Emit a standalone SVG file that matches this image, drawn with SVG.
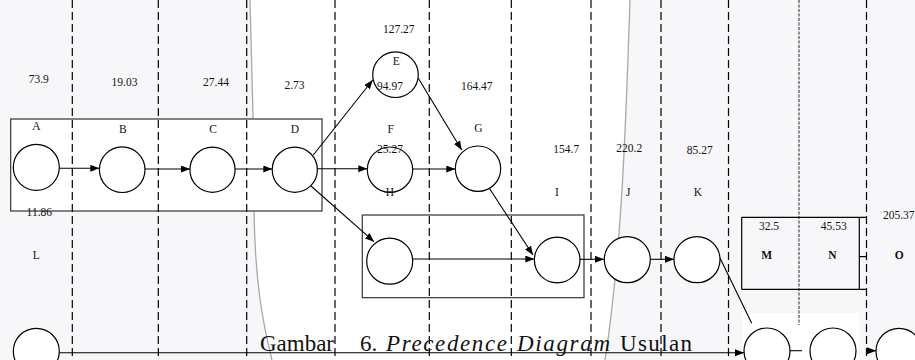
<svg xmlns="http://www.w3.org/2000/svg" width="915" height="360" viewBox="0 0 915 360">
<defs>
<marker id="ah" markerUnits="userSpaceOnUse" markerWidth="10" markerHeight="8" refX="9" refY="3.5" orient="auto">
<path d="M0,0 L9,3.5 L0,7 z" fill="#000"/>
</marker>
<style>
.t{font-family:"Liberation Serif","Times New Roman",serif;font-size:11.5px;fill:#111;text-anchor:middle}
.b{font-weight:bold}
.cap{font-family:"Liberation Serif","Times New Roman",serif;font-size:23px;fill:#111}
.it{font-style:italic}
.dash{stroke:#000;stroke-width:1.2;stroke-dasharray:8 4;fill:none}
.dot{stroke:#222;stroke-width:1;stroke-dasharray:3 1.5;fill:none}
.box{fill:#fff;stroke:#333;stroke-width:1.2}
.nd{fill:#fff;stroke:#000;stroke-width:1.2}
.cn{stroke:#000;stroke-width:1.1;fill:none}
.arr{marker-end:url(#ah)}
.curl{fill:none;stroke:#a8a8a8;stroke-width:1.3}
</style>
</defs>
<g id="background">
<rect x="0" y="0" width="915" height="360" fill="#f7f7f9"/>
<path d="M250,0 L630,0 C626,120 622,250 605,360 L272,360 C262,320 255,280 254,210 L253,117 Z" fill="#fff"/>
<path class="curl" d="M250,0 L253,117 L254,210 C255,280 262,320 272,360"/>
<path class="curl" d="M630,0 C626,120 622,250 605,360"/>
<rect x="742" y="313" width="117" height="47" fill="#fff"/>
</g>
<g id="frames">
<rect class="box" x="10.7" y="119" width="311.3" height="92"/>
<rect class="box" x="362.3" y="215" width="221.7" height="82.7"/>
<path d="M741.7,217.3 H866.5 M859.3,217.3 V289.3 M741.7,217.3 V289.3 M741.7,289.3 H866.5 M859.3,256.7 H866.5" fill="none" stroke="#000" stroke-width="1.2"/>
</g>
<g id="lanes">
<line class="dash" x1="72.3" y1="0" x2="72.3" y2="360"/>
<line class="dash" x1="158.3" y1="0" x2="158.3" y2="360"/>
<line class="dash" x1="246.7" y1="0" x2="246.7" y2="360"/>
<line class="dash" x1="335" y1="0" x2="335" y2="360"/>
<line class="dash" x1="429.3" y1="0" x2="429.3" y2="360"/>
<line class="dash" x1="511.3" y1="0" x2="511.3" y2="360"/>
<line class="dash" x1="591" y1="0" x2="591" y2="360"/>
<line class="dash" x1="661" y1="0" x2="661" y2="360"/>
<line class="dash" x1="728.5" y1="0" x2="728.5" y2="360"/>
<line class="dot" x1="799" y1="0" x2="799" y2="325"/>
<line class="dash" x1="866.5" y1="0" x2="866.5" y2="360"/>
</g>
<g id="connectors">
<line class="cn arr" x1="59.3" y1="168.3" x2="99.3" y2="168.3"/>
<line class="cn arr" x1="145" y1="169" x2="190" y2="169"/>
<line class="cn arr" x1="235" y1="169" x2="272.3" y2="169"/>
<line class="cn arr" x1="317.3" y1="168.7" x2="367.3" y2="168.7"/>
<line class="cn arr" x1="412.7" y1="169" x2="455.3" y2="169"/>
<line class="cn arr" x1="313.3" y1="155" x2="372.7" y2="80"/>
<line class="cn arr" x1="418.3" y1="78.3" x2="461.7" y2="150"/>
<line class="cn arr" x1="311" y1="186" x2="374" y2="241.7"/>
<line class="cn arr" x1="489.3" y1="188.3" x2="533" y2="255"/>
<line class="cn arr" x1="412.7" y1="259" x2="534.3" y2="259"/>
<line class="cn arr" x1="580" y1="259.3" x2="604" y2="259.3"/>
<line class="cn arr" x1="650.7" y1="259.3" x2="674" y2="259.3"/>
<line class="cn" x1="720" y1="258" x2="751.7" y2="323.3"/>
<line class="cn arr" x1="59.3" y1="352.7" x2="744" y2="352.7"/>
<line class="cn" x1="790" y1="350.7" x2="802" y2="350.7"/>
<line class="cn arr" x1="866.5" y1="350.7" x2="876" y2="350.7"/>
</g>
<g id="node-A"><circle class="nd" cx="36.3" cy="167.3" r="23"/><text class="t" x="36.3" y="130">A</text><text class="t" x="38.7" y="83.3">73.9</text></g>
<g id="node-B"><circle class="nd" cx="122.2" cy="169.7" r="22.8"/><text class="t" x="122.8" y="132.7">B</text><text class="t" x="124.5" y="86">19.03</text></g>
<g id="node-C"><circle class="nd" cx="212.5" cy="169.7" r="22.6"/><text class="t" x="213" y="132.7">C</text><text class="t" x="216" y="86">27.44</text></g>
<g id="node-D"><circle class="nd" cx="294.8" cy="169.7" r="22.6"/><text class="t" x="295" y="132.7">D</text><text class="t" x="294.5" y="89.3">2.73</text></g>
<g id="node-E"><circle class="nd" cx="395.5" cy="74.7" r="22.8"/><text class="t" x="396.3" y="65.3">E</text><text class="t" x="398.7" y="33.3">127.27</text><text class="t" x="390" y="90">94.97</text></g>
<g id="node-F"><circle class="nd" cx="390" cy="169.7" r="22.7"/><text class="t" x="390.7" y="132.7">F</text><text class="t" x="390" y="152.7">25.27</text></g>
<g id="node-G"><circle class="nd" cx="478" cy="168.7" r="22.7"/><text class="t" x="478.5" y="132">G</text><text class="t" x="476.8" y="90">164.47</text></g>
<g id="node-H"><circle class="nd" cx="389.7" cy="261.2" r="23"/><text class="t" x="390" y="196">H</text></g>
<g id="node-I"><circle class="nd" cx="557.2" cy="260" r="22.8"/><text class="t" x="557" y="196">I</text><text class="t" x="566.3" y="152.7">154.7</text></g>
<g id="node-J"><circle class="nd" cx="627.3" cy="259.7" r="23"/><text class="t" x="628.3" y="196">J</text><text class="t" x="629.3" y="152.3">220.2</text></g>
<g id="node-K"><circle class="nd" cx="697" cy="259.7" r="23"/><text class="t" x="698" y="196">K</text><text class="t" x="699.7" y="154.3">85.27</text></g>
<g id="node-L"><circle class="nd" cx="36.3" cy="351.3" r="23"/><text class="t" x="36.3" y="259.3">L</text><text class="t" x="39.3" y="216">11.86</text></g>
<g id="node-M"><circle class="nd" cx="767" cy="351" r="23"/><text class="t b" x="766.7" y="259.3">M</text><text class="t" x="769" y="230">32.5</text></g>
<g id="node-N"><circle class="nd" cx="833" cy="351" r="23"/><text class="t b" x="832.5" y="259.3">N</text><text class="t" x="833.7" y="230">45.53</text></g>
<g id="node-O"><circle class="nd" cx="899" cy="351.3" r="23"/><text class="t b" x="899.2" y="259.3">O</text><text class="t" x="898.7" y="219.3">205.37</text></g>
<g id="caption">
<text class="cap" x="260" y="350.5" textLength="74" lengthAdjust="spacing">Gambar</text>
<text class="cap" x="360" y="350.5">6.</text>
<text class="cap it" x="386" y="350.5" textLength="121" lengthAdjust="spacing">Precedence</text>
<text class="cap it" x="517" y="350.5" textLength="93" lengthAdjust="spacing">Diagram</text>
<text class="cap" x="620" y="350.5" textLength="72" lengthAdjust="spacing">Usulan</text>
</g>
</svg>
